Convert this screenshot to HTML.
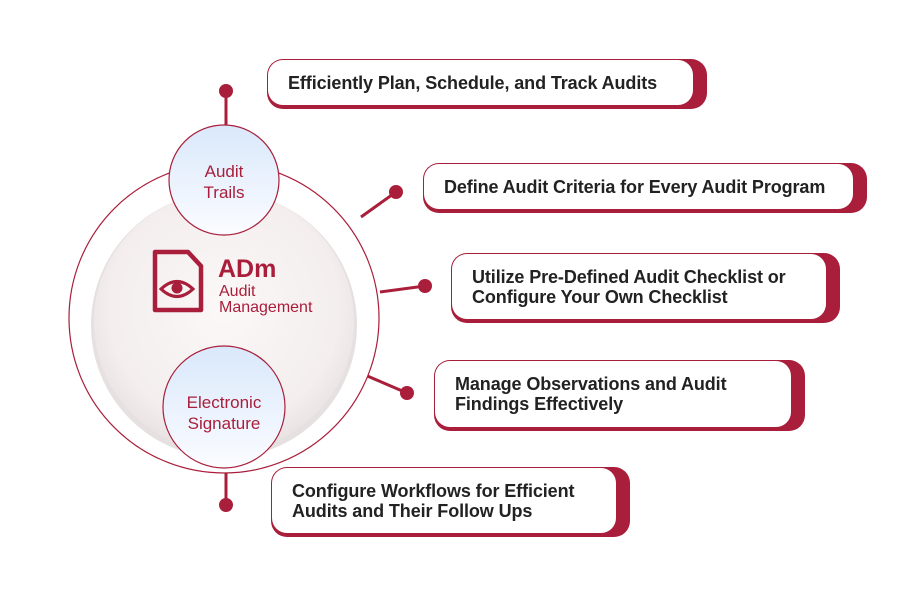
<!DOCTYPE html>
<html><head><meta charset="utf-8"><style>
body{margin:0;width:921px;height:595px;background:#fff;position:relative;overflow:hidden;font-family:"Liberation Sans",sans-serif}
.box{position:absolute;background:#a91e3a;border-radius:16px}
.box .in{position:absolute;left:1px;top:1px;background:#fff;border-radius:15px;display:flex;align-items:center;padding-left:20px;box-sizing:border-box;color:#222;font-weight:bold;font-size:18px;line-height:20px;letter-spacing:-0.1px}
svg{position:absolute;left:0;top:0}
</style></head><body>
<svg width="921" height="595">
<defs>
<radialGradient id="g" cx="0.5" cy="0.45" r="0.55"><stop offset="0" stop-color="#fbf8f8"/><stop offset="0.8" stop-color="#f4eeee"/><stop offset="1" stop-color="#e9e3e4"/></radialGradient>
<linearGradient id="b" x1="0" y1="0" x2="0" y2="1"><stop offset="0" stop-color="#d9e8fb"/><stop offset="1" stop-color="#fbfcff"/></linearGradient>
</defs>
<g stroke="#a91e3a" stroke-width="3">
<line x1="226" y1="91" x2="226" y2="127"/>
<line x1="226" y1="468" x2="226" y2="505"/>
<line x1="396" y1="192" x2="361" y2="217"/>
<line x1="425" y1="286" x2="380" y2="292"/>
<line x1="407" y1="393" x2="358" y2="372"/>
</g>
<g fill="#a91e3a">
<circle cx="226" cy="91" r="7"/><circle cx="226" cy="505" r="7"/>
<circle cx="396" cy="192" r="7"/><circle cx="425" cy="286" r="7"/><circle cx="407" cy="393" r="7"/>
</g>
<circle cx="224" cy="318" r="155" fill="#fff" stroke="#a91e3a" stroke-width="1.2"/>
<circle cx="224" cy="325" r="133" fill="#e6e0e1"/>
<circle cx="224" cy="322" r="130" fill="url(#g)"/>
<circle cx="224" cy="180" r="55" fill="url(#b)" stroke="#a91e3a" stroke-width="1.2"/>
<circle cx="224" cy="407" r="61" fill="url(#b)" stroke="#a91e3a" stroke-width="1.2"/>
<text x="224" y="177" text-anchor="middle" fill="#a91e3a" font-size="17">Audit</text>
<text x="224" y="198" text-anchor="middle" fill="#a91e3a" font-size="17">Trails</text>
<text x="224" y="408" text-anchor="middle" fill="#a91e3a" font-size="17">Electronic</text>
<text x="224" y="429" text-anchor="middle" fill="#a91e3a" font-size="17">Signature</text>
<path d="M155 252 H188 L201 266 V310 H155 Z" fill="none" stroke="#a91e3a" stroke-width="4.5" stroke-linejoin="round"/>
<path d="M161 289 Q177 274 193 289 Q177 304 161 289 Z" fill="none" stroke="#a91e3a" stroke-width="3"/>
<circle cx="177" cy="288" r="5.5" fill="#a91e3a"/>
<text x="218" y="277" fill="#a91e3a" font-size="25" font-weight="bold">ADm</text>
<text x="219" y="296" fill="#a91e3a" font-size="16">Audit</text>
<text x="219" y="312" fill="#a91e3a" font-size="16">Management</text>
</svg>
<div class="box" style="left:267px;top:59px;width:440px;height:50px"><div class="in" style="width:425px;height:45px">Efficiently Plan, Schedule, and Track Audits</div></div>
<div class="box" style="left:423px;top:163px;width:444px;height:50px"><div class="in" style="width:429px;height:45px">Define Audit Criteria for Every Audit Program</div></div>
<div class="box" style="left:451px;top:253px;width:389px;height:70px"><div class="in" style="width:374px;height:65px">Utilize Pre-Defined Audit Checklist or<br>Configure Your Own Checklist</div></div>
<div class="box" style="left:434px;top:360px;width:371px;height:71px"><div class="in" style="width:356px;height:66px">Manage Observations and Audit<br>Findings Effectively</div></div>
<div class="box" style="left:271px;top:467px;width:359px;height:70px"><div class="in" style="width:344px;height:65px">Configure Workflows for Efficient<br>Audits and Their Follow Ups</div></div>
</body></html>
